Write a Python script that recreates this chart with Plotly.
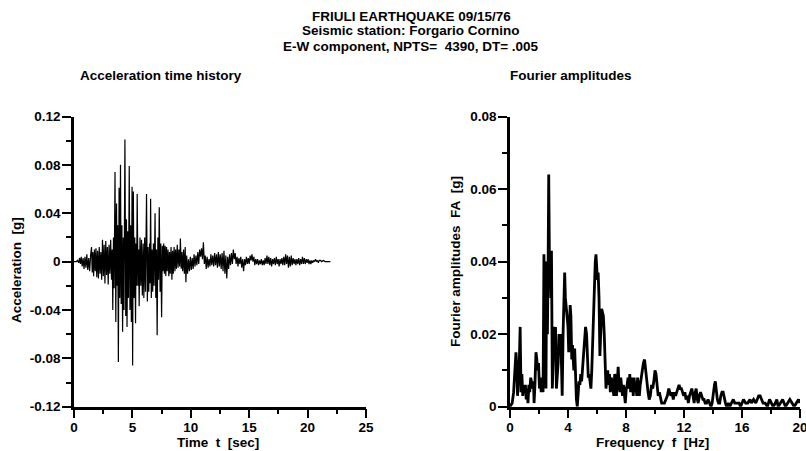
import plotly.graph_objects as go

# ---------------- data ----------------
acc_time = [
    0.00, 0.20, 0.30, 0.40, 0.48, 0.55, 0.62, 0.70, 0.78, 0.86, 0.94, 1.02, 1.10, 1.18, 1.26, 1.34, 1.42,
    1.50, 1.56, 1.62, 1.68, 1.75, 1.82, 1.88, 1.95, 2.02, 2.09, 2.16, 2.23, 2.30, 2.37, 2.44, 2.51, 2.58,
    2.65, 2.72, 2.79, 2.86, 2.93, 3.00, 3.07, 3.14, 3.21, 3.27, 3.32, 3.38, 3.44,
    3.51, 3.58, 3.64, 3.70, 3.74, 3.80, 3.86, 3.92, 3.98, 4.04, 4.10, 4.16, 4.22, 4.28, 4.36, 4.43, 4.49,
    4.54, 4.60, 4.66, 4.73, 4.79, 4.85, 4.91, 4.97, 5.02, 5.08, 5.14, 5.20, 5.27, 5.31, 5.36, 5.41, 5.48,
    5.53, 5.58, 5.65, 5.72, 5.78, 5.85, 5.92, 5.98, 6.05, 6.12, 6.21, 6.28, 6.34, 6.40, 6.47, 6.51, 6.56,
    6.62, 6.68, 6.74, 6.80, 6.86, 6.94, 7.00, 7.06, 7.12, 7.18, 7.24, 7.30, 7.37, 7.43, 7.50, 7.56, 7.62,
    7.68, 7.74, 7.80, 7.86, 7.92, 7.98, 8.05, 8.12, 8.18, 8.24, 8.31, 8.38, 8.44, 8.50, 8.57, 8.64, 8.70,
    8.77, 8.84, 8.91, 8.98, 9.05, 9.11, 9.18, 9.24, 9.31, 9.38, 9.45, 9.52, 9.58, 9.65, 9.72, 9.80, 9.88,
    9.96, 10.04, 10.12, 10.20, 10.28, 10.36, 10.44, 10.52, 10.60, 10.68, 10.76, 10.84, 10.92, 11.00, 11.08,
    11.16, 11.24, 11.32, 11.40, 11.48, 11.56, 11.64, 11.72, 11.80, 11.88, 11.96, 12.04, 12.12, 12.20, 12.28,
    12.36, 12.44, 12.52, 12.60, 12.68, 12.76, 12.84, 12.92, 13.00, 13.08, 13.16, 13.24, 13.32, 13.40, 13.48,
    13.56, 13.64, 13.72, 13.80, 13.88, 13.96, 14.04, 14.12, 14.20, 14.28, 14.36, 14.44, 14.52, 14.60, 14.68,
    14.76, 14.84, 14.92, 15.00, 15.08, 15.16, 15.24, 15.32, 15.40, 15.48, 15.56, 15.64, 15.72, 15.80, 15.88,
    15.96, 16.04, 16.12, 16.20, 16.28, 16.36, 16.44, 16.52, 16.60, 16.68, 16.76, 16.84, 16.92, 17.00, 17.08,
    17.16, 17.24, 17.32, 17.40, 17.48, 17.56, 17.64, 17.72, 17.80, 17.88, 17.96, 18.04, 18.12, 18.20, 18.28,
    18.36, 18.44, 18.52, 18.60, 18.68, 18.76, 18.84, 18.92, 19.00, 19.08, 19.16, 19.24, 19.32, 19.40, 19.48,
    19.56, 19.64, 19.72, 19.80, 19.88, 19.96, 20.04, 20.12, 20.20, 20.28, 20.36, 20.44, 20.52, 20.60, 20.68,
    20.76, 20.84, 20.92, 21.00, 21.10, 21.20, 21.35, 21.50, 21.70, 21.95,
]
acc_value = [
    0.000, 0.000, 0.001, -0.001, 0.003, -0.002, 0.004, -0.004, 0.003, -0.006, 0.004, -0.005, 0.006, -0.007, 0.003, -0.008, 0.005,
    0.012, -0.009, 0.008, -0.012, 0.010, -0.008, 0.011, -0.013, 0.009, -0.014, 0.012, -0.010, 0.008, -0.015, 0.018, -0.012, 0.014,
    -0.018, 0.017, -0.011, 0.012, -0.019, 0.014, -0.010, 0.018, -0.015, 0.010, -0.040, 0.020, -0.022,
    0.074, -0.050, 0.048, -0.020, 0.030, -0.083, 0.061, -0.030, 0.080, -0.035, 0.030, -0.058, 0.020, -0.040, 0.101, -0.045, 0.035,
    -0.054, 0.025, -0.030, 0.079, -0.040, 0.030, -0.050, 0.062, -0.086, 0.058, -0.030, 0.020, -0.051, 0.015, -0.020, 0.056, -0.020,
    0.010, -0.037, 0.020, -0.020, 0.018, -0.028, 0.015, -0.030, 0.020, -0.025, 0.056, -0.033, 0.012, -0.025, 0.015, -0.018, 0.052,
    -0.030, 0.010, -0.025, 0.015, -0.020, 0.040, -0.030, 0.010, -0.061, 0.020, -0.015, 0.045, -0.025, 0.015, -0.046, 0.013, -0.008,
    0.015, -0.010, 0.013, -0.012, 0.012, -0.008, 0.010, -0.012, 0.008, -0.010, 0.012, -0.015, 0.009, -0.010, 0.012, -0.008, 0.010,
    -0.006, 0.014, -0.005, 0.010, -0.004, 0.019, -0.006, 0.008, -0.008, 0.010, -0.010, 0.012, -0.017, 0.005, -0.010, 0.002, -0.008,
    0.004, -0.007, 0.003, -0.006, 0.006, -0.004, 0.005, -0.003, 0.008, -0.002, 0.010, 0.004, 0.011, 0.002, 0.016,
    -0.002, 0.005, -0.006, 0.004, -0.005, 0.002, -0.004, 0.006, -0.003, 0.005, -0.004, 0.007, -0.003, 0.006, -0.005,
    0.008, -0.004, 0.006, -0.006, 0.007, -0.008, 0.009, -0.010, 0.005, -0.014, 0.004, -0.006, 0.006, -0.003, 0.007,
    -0.002, 0.010, 0.002, 0.007, -0.002, 0.004, -0.004, 0.003, -0.002, 0.004, -0.005, 0.002, -0.008, 0.002, -0.003,
    0.004, -0.002, 0.003, -0.002, 0.005, 0.001, 0.006, 0.000, 0.004, -0.003, 0.002, -0.002, 0.002, -0.003, 0.001,
    -0.002, 0.002, -0.003, 0.001, -0.003, 0.003, -0.002, 0.005, -0.002, 0.004, -0.003, 0.003, -0.004, 0.002, -0.002,
    0.003, -0.003, 0.004, -0.002, 0.002, -0.004, 0.002, -0.002, 0.003, -0.003, 0.004, -0.003, 0.006, -0.002, 0.005,
    -0.005, 0.004, -0.004, 0.005, -0.003, 0.003, -0.002, 0.002, -0.003, 0.002, -0.002, 0.003, -0.003, 0.002, -0.002,
    0.004, -0.002, 0.003, -0.002, 0.002, -0.001, 0.002, -0.002, 0.001, -0.002, 0.001, -0.001, 0.001, 0.000, 0.002,
    0.000, 0.001, -0.001, 0.001, 0.001, 0.000, 0.001, 0.000, 0.000, 0.000,
]

freq = [
    0.00, 0.15, 0.25, 0.34, 0.41, 0.46, 0.52, 0.58, 0.64, 0.70, 0.76, 0.82, 0.88, 0.94, 1.00, 1.06, 1.12,
    1.18, 1.24, 1.30, 1.36, 1.43, 1.50, 1.56, 1.62, 1.66, 1.72, 1.79, 1.85, 1.91, 1.97, 2.03, 2.09, 2.15,
    2.22, 2.28, 2.34, 2.42, 2.48, 2.53, 2.58, 2.63, 2.67, 2.72, 2.76, 2.82, 2.86, 2.92, 2.98, 3.04, 3.08,
    3.14, 3.20, 3.26, 3.32, 3.38, 3.44, 3.50, 3.56, 3.60, 3.66, 3.72, 3.77, 3.82, 3.88, 3.94, 4.00, 4.05,
    4.10, 4.15, 4.20, 4.26, 4.31, 4.36, 4.40, 4.46, 4.52, 4.58, 4.64, 4.70, 4.76, 4.82, 4.88, 4.94, 5.00,
    5.07, 5.14, 5.21, 5.28, 5.34, 5.40, 5.46, 5.52, 5.58, 5.64, 5.70, 5.76, 5.82, 5.88, 5.93, 5.98, 6.03,
    6.08, 6.14, 6.20, 6.26, 6.32, 6.38, 6.44, 6.50, 6.56, 6.62, 6.68, 6.74, 6.80, 6.86, 6.92, 6.98, 7.04,
    7.10, 7.16, 7.22, 7.28, 7.34, 7.40, 7.46, 7.52, 7.58, 7.64, 7.70, 7.76, 7.82, 7.88, 7.95, 8.02, 8.08,
    8.14, 8.20, 8.26, 8.32, 8.38, 8.44, 8.50, 8.56, 8.62, 8.68, 8.74, 8.80, 8.86, 8.92, 8.98, 9.05, 9.12,
    9.20, 9.28, 9.36, 9.44, 9.52, 9.60, 9.68, 9.76, 9.84, 9.92, 10.00, 10.07, 10.14, 10.22, 10.30, 10.38,
    10.46, 10.55, 10.65, 10.75, 10.85, 10.95, 11.02, 11.10, 11.18, 11.26, 11.34, 11.42, 11.50, 11.58, 11.66,
    11.74, 11.82, 11.90, 11.98, 12.06, 12.14, 12.22, 12.30, 12.38, 12.46, 12.54, 12.62, 12.70, 12.78, 12.84,
    12.92, 12.98, 13.06, 13.14, 13.22, 13.30, 13.38, 13.46, 13.56, 13.66, 13.76, 13.86, 13.94, 14.02, 14.10,
    14.16, 14.22, 14.30, 14.38, 14.46, 14.54, 14.62, 14.70, 14.78, 14.86, 14.94, 15.05, 15.15, 15.30, 15.40,
    15.50, 15.65, 15.80, 15.90, 16.00, 16.10, 16.25, 16.40, 16.55, 16.65, 16.80, 16.95, 17.05, 17.15, 17.25,
    17.35, 17.45, 17.60, 17.75, 17.90, 18.00, 18.15, 18.30, 18.40, 18.50, 18.65, 18.80, 18.90, 19.00, 19.15,
    19.30, 19.45, 19.60, 19.75, 19.90, 20.00,
]
fourier_amp = [
    0.000, 0.001, 0.004, 0.010, 0.015, 0.012, 0.003, 0.008, 0.012, 0.022, 0.004, 0.009, 0.003, 0.006, 0.004, 0.006, 0.002,
    0.005, 0.001, 0.006, 0.004, 0.008, 0.006, 0.005, 0.007, 0.001, 0.006, 0.015, 0.013, 0.010, 0.012, 0.005, 0.008, 0.004,
    0.008, 0.004, 0.042, 0.020, 0.005, 0.040, 0.020, 0.040, 0.064, 0.040, 0.042, 0.030, 0.043, 0.005, 0.012, 0.022, 0.020,
    0.022, 0.005, 0.008, 0.012, 0.020, 0.018, 0.020, 0.005, 0.003, 0.020, 0.030, 0.037, 0.030, 0.027, 0.025, 0.022, 0.015,
    0.020, 0.028, 0.025, 0.013, 0.017, 0.012, 0.010, 0.016, 0.008, 0.002, 0.000, 0.004, 0.007, 0.006, 0.009, 0.007, 0.010,
    0.015, 0.019, 0.022, 0.020, 0.012, 0.008, 0.009, 0.007, 0.005, 0.010, 0.018, 0.025, 0.035, 0.040, 0.042, 0.038, 0.035,
    0.037, 0.030, 0.014, 0.020, 0.027, 0.026, 0.025, 0.020, 0.010, 0.005, 0.008, 0.010, 0.006, 0.009, 0.004, 0.008, 0.007,
    0.004, 0.003, 0.009, 0.008, 0.003, 0.007, 0.011, 0.006, 0.004, 0.008, 0.005, 0.003, 0.006, 0.004, 0.001, 0.005, 0.006,
    0.008, 0.005, 0.009, 0.004, 0.007, 0.008, 0.003, 0.008, 0.004, 0.007, 0.003, 0.008, 0.005, 0.003, 0.006, 0.008, 0.011,
    0.012, 0.013, 0.010, 0.006, 0.004, 0.002, 0.003, 0.006, 0.005, 0.007, 0.010, 0.009, 0.005, 0.003, 0.004, 0.002,
    0.001, 0.001, 0.001, 0.002, 0.003, 0.005, 0.004, 0.003, 0.004, 0.002, 0.004, 0.003, 0.004, 0.005, 0.006,
    0.005, 0.005, 0.004, 0.003, 0.004, 0.002, 0.003, 0.001, 0.003, 0.004, 0.005, 0.003, 0.001, 0.004, 0.005,
    0.002, 0.001, 0.003, 0.004, 0.003, 0.002, 0.002, 0.001, 0.001, 0.002, 0.001, 0.000, 0.001, 0.004, 0.006,
    0.007, 0.004, 0.002, 0.001, 0.001, 0.003, 0.004, 0.004, 0.002, 0.001, 0.000, 0.001, 0.000, 0.001, 0.002,
    0.001, 0.001, 0.001, 0.000, 0.001, 0.002, 0.001, 0.001, 0.002, 0.001, 0.002, 0.001, 0.002, 0.003, 0.003,
    0.002, 0.001, 0.001, 0.000, 0.002, 0.001, 0.000, 0.001, 0.002, 0.000, 0.001, 0.002, 0.001, 0.000, 0.001,
    0.002, 0.001, 0.000, 0.001, 0.002, 0.001,
]

acc_ticks = [-0.12, -0.08, -0.04, 0, 0.04, 0.08, 0.12]
acc_ticklabels = ["-0.12", "-0.08", "-0.04", "0", "0.04", "0.08", "0.12"]
time_ticks = [0, 5, 10, 15, 20, 25]
fa_ticks = [0, 0.02, 0.04, 0.06, 0.08]
fa_ticklabels = ["0", "0.02", "0.04", "0.06", "0.08"]
freq_ticks = [0, 4, 8, 12, 16, 20]

title_lines = ["FRIULI EARTHQUAKE 09/15/76",
               "Seismic station: Forgario Cornino",
               "E-W component, NPTS=\u00a0\u00a04390, DT= .005"]

# ---------------- figure ----------------
W, H = 806, 451
FONT = "Liberation Sans"
tfont = dict(family=FONT, size=13.5, color="black", weight="bold")

def px_x(p):
    return p / W

def px_y(p):
    return 1 - p / H

fig = go.Figure()
fig.add_trace(go.Scatter(x=acc_time, y=acc_value, mode="lines",
                         line=dict(color="black", width=1.2),
                         xaxis="x", yaxis="y", showlegend=False))
fig.add_trace(go.Scatter(x=freq, y=fourier_amp, mode="lines",
                         line=dict(color="black", width=2.8),
                         xaxis="x2", yaxis="y2", showlegend=False))

common = dict(showline=True, linewidth=2.5, linecolor="black", ticks="outside",
              ticklen=9, tickwidth=2, tickcolor="black", showgrid=False,
              zeroline=False, tickfont=tfont, fixedrange=True, automargin=False,
              ticklabeloverflow="allow")
minor = dict(ticks="outside", ticklen=5, tickwidth=2, tickcolor="black", showgrid=False)

y_dom = [1 - 406.7 / H, 1 - 116.5 / H]
fig.update_layout(
    width=W, height=H, autosize=False,
    margin=dict(l=0, r=0, t=0, b=0, pad=0, autoexpand=False),
    paper_bgcolor="white", plot_bgcolor="white",
    xaxis=dict(domain=[74 / W, 366 / W], range=[0, 25], anchor="y",
               tickvals=time_ticks, ticktext=[str(v) for v in time_ticks],
               ticklabelstandoff=-3,
               minor=dict(dtick=2.5, tick0=0, **minor), **common),
    yaxis=dict(domain=y_dom, range=[-0.12, 0.12], anchor="x",
               tickvals=acc_ticks, ticktext=acc_ticklabels,
               ticklabelstandoff=-1,
               minor=dict(dtick=0.02, tick0=0, **minor), **common),
    xaxis2=dict(domain=[510 / W, 800 / W], range=[0, 20], anchor="y2",
                tickvals=freq_ticks, ticktext=[str(v) for v in freq_ticks],
                ticklabelstandoff=-3,
                minor=dict(dtick=2, tick0=0, **minor), **common),
    yaxis2=dict(domain=y_dom, range=[0, 0.08], anchor="x2",
                tickvals=fa_ticks, ticktext=fa_ticklabels,
                ticklabelstandoff=-1,
                minor=dict(dtick=0.01, tick0=0, **minor), **common),
)

ann = []
for i, line in enumerate(title_lines):
    ann.append(dict(text=line, x=px_x(411), y=px_y(16 + 15 * i), xref="paper", yref="paper",
                    xanchor="center", yanchor="middle", showarrow=False, font=tfont))
ann.append(dict(text="Acceleration time history", x=px_x(78), y=px_y(76), xref="paper", yref="paper",
                xanchor="left", yanchor="middle", showarrow=False, font=tfont))
ann.append(dict(text="Fourier amplitudes", x=px_x(508), y=px_y(76), xref="paper", yref="paper",
                xanchor="left", yanchor="middle", showarrow=False, font=tfont))
ann.append(dict(text="Time\u00a0\u00a0t\u00a0\u00a0[sec]", x=px_x(218), y=px_y(442), xref="paper", yref="paper",
                xanchor="center", yanchor="middle", showarrow=False, font=tfont))
ann.append(dict(text="Frequency\u00a0\u00a0f\u00a0\u00a0[Hz]", x=px_x(652), y=px_y(442), xref="paper", yref="paper",
                xanchor="center", yanchor="middle", showarrow=False, font=tfont))
ann.append(dict(text="Acceleration\u00a0\u00a0[g]", x=px_x(16), y=px_y(270), xref="paper", yref="paper",
                xanchor="center", yanchor="middle", showarrow=False, font=tfont, textangle=-90))
ann.append(dict(text="Fourier amplitudes\u00a0\u00a0FA\u00a0\u00a0[g]", x=px_x(455), y=px_y(262), xref="paper", yref="paper",
                xanchor="center", yanchor="middle", showarrow=False, font=tfont, textangle=-90))
fig.update_layout(annotations=ann)

post = ("document.documentElement.style.margin='0';"
        "document.body.style.margin='0';document.body.style.padding='0';"
        "document.body.style.overflow='hidden';"
        "var gd=document.getElementById('{plot_id}');"
        "Plotly.relayout(gd,{width:806,height:451});")
fig.write_html("out.html", config={"displayModeBar": False, "responsive": False},
               post_script=post)
